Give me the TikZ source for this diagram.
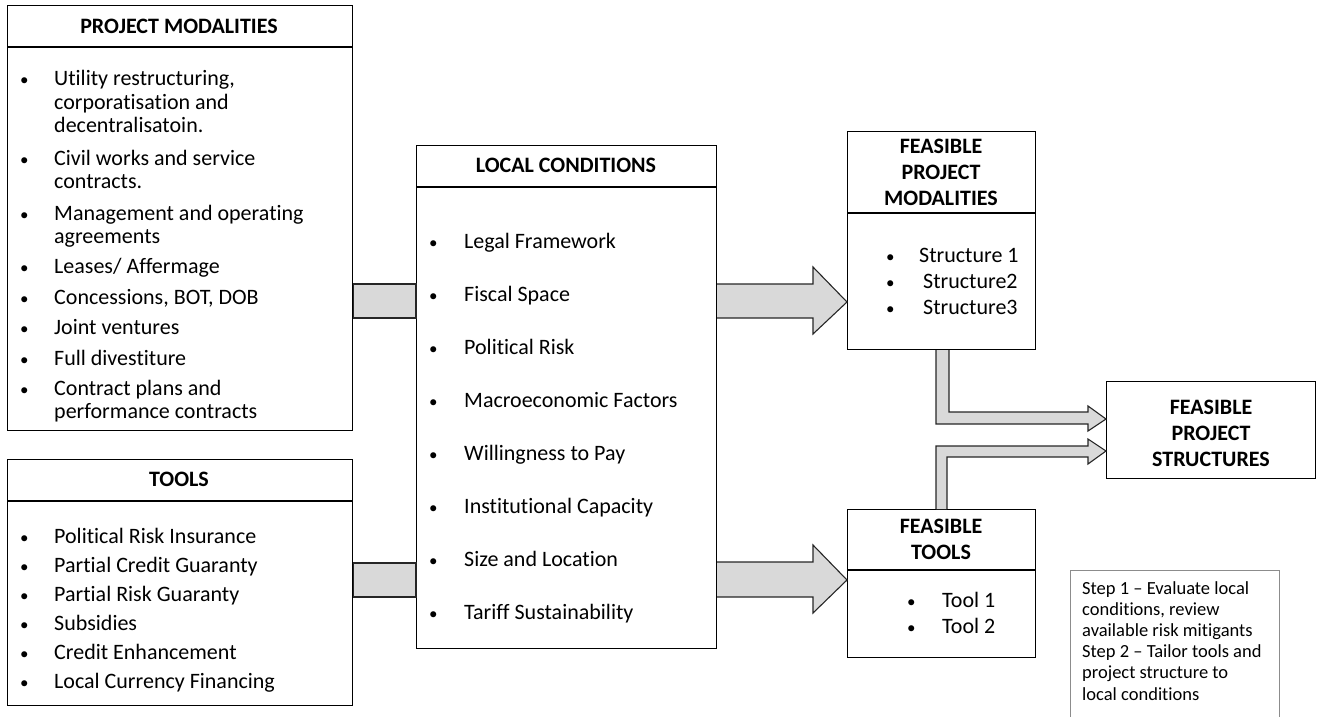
\documentclass[tikz,border=0pt]{standalone}
\usepackage{fontspec}
\setmainfont{Carlito}[Ligatures=NoCommon]
\usetikzlibrary{calc}
\definecolor{arrgray}{HTML}{D9D9D9}
\begin{document}
\begin{tikzpicture}[x=1pt,y=-1pt,
  box/.style={draw=black, line width=1.2pt, anchor=north west, inner sep=0pt},
  note/.style={draw=black!45, line width=1pt, anchor=north west, inner sep=0pt},
  txt/.style={anchor=base west, inner sep=0pt, font=\fontsize{22}{26}\selectfont},
  bul/.style={anchor=base west, inner sep=0pt, font=\fontsize{17}{20}\selectfont},
  ttl/.style={anchor=base, inner sep=0pt, font=\fontsize{22}{26}\selectfont\bfseries},
  ntxt/.style={anchor=base west, inner sep=0pt, font=\fontsize{18.5}{22}\selectfont},
  blk/.style={fill=arrgray, draw=black!85, line width=1.1pt, line join=miter}]
\useasboundingbox (0,0) rectangle (1319,717);
% boxes
\node[box, minimum width=345pt, minimum height=425pt] (pm) at (7,5) {};
\node[box, minimum width=345pt, minimum height=246pt] (tl) at (7,459) {};
\node[box, minimum width=300pt, minimum height=503pt] (lc) at (416,145) {};
\node[box, minimum width=188pt, minimum height=218pt] (fpm) at (847,131) {};
\node[box, minimum width=188pt, minimum height=148pt] (ft) at (847,509) {};
\node[box, minimum width=209pt, minimum height=97pt] (fps) at (1106,381) {};
\node[note, minimum width=209pt, minimum height=160pt] (nt) at (1070,570) {};
% dividers
\draw[line width=1.2pt] (pm.west |- 0,47) -- (pm.east |- 0,47);
\draw[line width=1.2pt] (tl.west |- 0,501) -- (tl.east |- 0,501);
\draw[line width=1.2pt] (lc.west |- 0,187) -- (lc.east |- 0,187);
\draw[line width=1.2pt] (fpm.west |- 0,213) -- (fpm.east |- 0,213);
\draw[line width=1.2pt] (ft.west |- 0,570) -- (ft.east |- 0,570);
% titles
\node[ttl] (pmt) at (179,34) {PROJECT MODALITIES};
\node[ttl] (tlt) at (179,486) {TOOLS};
\node[ttl] (lct) at (566,172) {LOCAL CONDITIONS};
\node[ttl] (fpmt1) at (941,153) {FEASIBLE};
\node[ttl] (fpmt2) at (941,179) {PROJECT};
\node[ttl] (fpmt3) at (941,205) {MODALITIES};
\node[ttl] (ftt1) at (941,533) {FEASIBLE};
\node[ttl] (ftt2) at (941,559) {TOOLS};
\node[ttl] (fpst1) at (1211,414) {FEASIBLE};
\node[ttl] (fpst2) at (1211,440) {PROJECT};
\node[ttl] (fpst3) at (1211,466) {STRUCTURES};
% project modalities items
\foreach \y/\n in {85/1,165/2,220/3,273/4,304/5,334/6,365/7,395/8}
  \node[bul] (pmb\n) at (20,\y) {•};
\foreach \y/\t [count=\n] in {85/{Utility restructuring,},109/{corporatisation and},132/{decentralisatoin.},165/{Civil works and service},188/{contracts.},220/{Management and operating},243/{agreements},273/{Leases/ Affermage},304/{Concessions, BOT, DOB},334/{Joint ventures},365/{Full divestiture},395/{Contract plans and},418/{performance contracts}}
  \node[txt] (pmi\n) at (54,\y) {\t};
% tools items
\foreach \y/\t [count=\n] in {543/{Political Risk Insurance},572/{Partial Credit Guaranty},601/{Partial Risk Guaranty},630/{Subsidies},659/{Credit Enhancement},688/{Local Currency Financing}}
  {\node[bul] (tlb\n) at (20,\y) {•};
   \node[txt] (tli\n) at (54,\y) {\t};}
% local conditions
\foreach \y/\t [count=\n] in {248/{Legal Framework},301/{Fiscal Space},354/{Political Risk},407/{Macroeconomic Factors},460/{Willingness to Pay},513/{Institutional Capacity},566/{Size and Location},619/{Tariff Sustainability}}
  {\node[bul] (lcb\n) at (429,\y) {•};
   \node[txt] (lci\n) at (464,\y) {\t};}
% feasible project modalities
\foreach \y/\x/\t [count=\n] in {262/919/{Structure 1},288/923/{Structure2},314/923/{Structure3}}
  {\node[bul] (fpb\n) at (886,\y) {•};
   \node[txt] (fpi\n) at (\x,\y) {\t};}
% feasible tools
\foreach \y/\t [count=\n] in {607/{Tool 1},633/{Tool 2}}
  {\node[bul] (ftb\n) at (907,\y) {•};
   \node[txt] (fti\n) at (942,\y) {\t};}
% note
\foreach \y/\t [count=\n] in {594/{Step 1 -- Evaluate local},615/{conditions, review},636/{available risk mitigants},657/{Step 2 -- Tailor tools and},678/{project structure to},700/{local conditions}}
  \node[ntxt] (nti\n) at (1082,\y) {\t};
% connectors
\draw[blk] (pm.east |- 0,284) rectangle (lc.west |- 0,318);
\draw[blk] (tl.east |- 0,563) rectangle (lc.west |- 0,597);
\draw[blk] (lc.east |- 0,284) -- (813,284) -- (813,267) -- (fpm.west |- 0,302)
  -- (813,334) -- (813,318) -- (lc.east |- 0,318);
\draw[blk] (lc.east |- 0,562) -- (813,562) -- (813,545) -- (ft.west |- 0,580)
  -- (813,613) -- (813,597) -- (lc.east |- 0,597);
\draw[blk] (fpm.south -| 936,0) -- (936,424) -- (1088,424) -- (1088,431)
  -- (fps.west |- 0,419) -- (1088,406) -- (1088,412) -- (949,412) -- (fpm.south -| 949,0);
\draw[blk] (ft.north -| 936,0) -- (936,446) -- (1088,446) -- (1088,439)
  -- (fps.west |- 0,451) -- (1088,464) -- (1088,457) -- (947,457) -- (ft.north -| 947,0);
\end{tikzpicture}
\end{document}
